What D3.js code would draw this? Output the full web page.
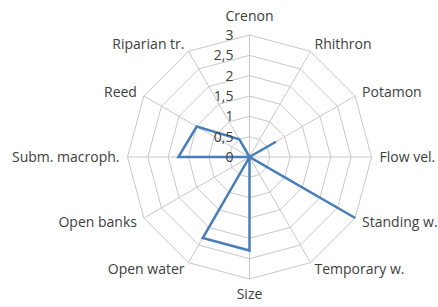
<!DOCTYPE html>
<html>
<head>
<meta charset="utf-8">
<script src="https://cdn.jsdelivr.net/npm/d3@7"></script>
<style>
  body { margin: 0; background: #fff; }
  svg { display: block; font-family: "Open Sans", sans-serif; }
</style>
</head>
<body>
<svg width="438" height="307"></svg>
<script>
const categories = ['Crenon', 'Rhithron', 'Potamon', 'Flow vel.', 'Standing w.', 'Temporary w.',
  'Size', 'Open water', 'Open banks', 'Subm. macroph.', 'Reed', 'Riparian tr.'];
const values = [0, 0, 0.75, 0, 3, 0, 2.3, 2.3, 0, 1.75, 1.5, 0.5];
const ticks = [0, 0.5, 1, 1.5, 2, 2.5, 3];
const tickLabels = ['0', '0,5', '1', '1,5', '2', '2,5', '3'];

const cx = 249.5;
const cy = 157;
const radius = 122;

const svg = d3.select('svg');
const g = svg.append('g').attr('transform', `translate(${cx},${cy})`);

const r = d3.scaleLinear().domain([0, 3]).range([0, radius]);
const step = 2 * Math.PI / categories.length;
const a = i => i * step;
const pt = (i, v) => [Math.sin(a(i)) * r(v), -Math.cos(a(i)) * r(v)];

// grid rings
ticks.filter(t => t > 0).forEach(t => {
  g.append('path')
    .attr('d', d3.line()(categories.map((c, i) => pt(i, t))) + 'Z')
    .attr('fill', 'none')
    .attr('stroke', '#c8c8c8')
    .attr('stroke-width', 1);
});

// spokes
g.selectAll('.spoke')
  .data(categories)
  .enter()
  .append('line')
  .attr('x1', 0).attr('y1', 0)
  .attr('x2', (d, i) => pt(i, 3)[0])
  .attr('y2', (d, i) => pt(i, 3)[1])
  .attr('stroke', '#c8c8c8')
  .attr('stroke-width', 1);

// data polygon
g.append('path')
  .attr('d', d3.line()(values.map((v, i) => pt(i, v))) + 'Z')
  .attr('fill', 'none')
  .attr('stroke', '#4a7ebb')
  .attr('stroke-width', 2.5);

// tick labels
g.selectAll('.tick')
  .data(ticks)
  .enter()
  .append('text')
  .attr('x', -16)
  .attr('y', d => -r(d))
  .attr('dy', '0.35em')
  .attr('text-anchor', 'end')
  .attr('font-size', '14px')
  .attr('fill', '#404040')
  .text((d, i) => tickLabels[i]);

// category labels
g.selectAll('.cat')
  .data(categories)
  .enter()
  .append('text')
  .attr('x', (d, i) => Math.sin(a(i)) * (radius + 8))
  .attr('y', (d, i) => -Math.cos(a(i)) * (radius + 8))
  .attr('dy', (d, i) => {
    const c = -Math.cos(a(i));
    return c < -0.9 ? '-0.45em' : c > 0.9 ? '0.85em' : '0.35em';
  })
  .attr('text-anchor', (d, i) => {
    const s = Math.sin(a(i));
    return s > 0.1 ? 'start' : s < -0.1 ? 'end' : 'middle';
  })
  .attr('font-size', '14px')
  .attr('fill', '#404040')
  .text(d => d);
</script>
</body>
</html>
